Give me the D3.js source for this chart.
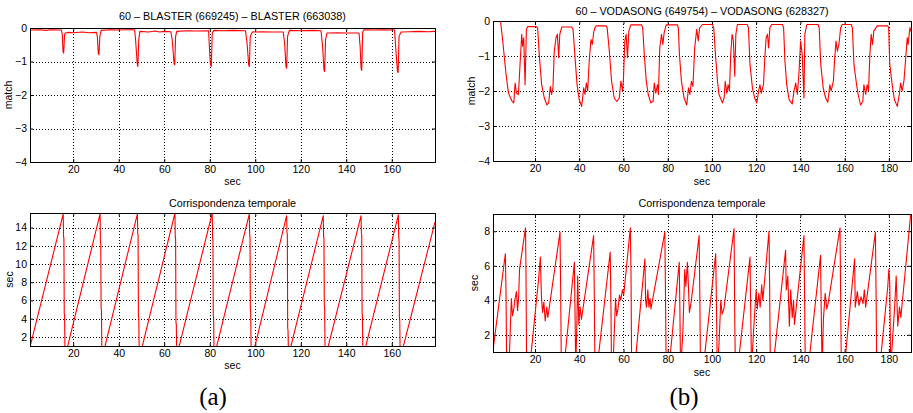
<!DOCTYPE html>
<html>
<head>
<meta charset="utf-8">
<script src="https://cdn.jsdelivr.net/npm/d3@7"></script>
<style>
  body { margin: 0; background: #fff; }
  svg text { font-family: "Liberation Sans", Arial, Helvetica, sans-serif; }
</style>
</head>
<body>
<div id="graf"></div>
<script>
// (a) match: [sec, value]
const blasterMatch = [
  [1,-0.06],[5,-0.05],[8,-0.07],[10,-0.05],[14.8,-0.06],[15.2,-0.2],[15.5,-0.7],[15.8,-0.75],[16.2,-0.2],[16.5,-0.15],
  [18,-0.13],[20,-0.14],[24,-0.12],[27,-0.14],[30.2,-0.13],[30.6,-0.25],[31.0,-0.75],[31.3,-0.8],[31.7,-0.25],[32.3,-0.07],
  [36,-0.05],[40,-0.06],[44,-0.05],[47,-0.05],[47.4,-0.35],[48.1,-1.05],[48.4,-1.15],[48.8,-0.35],[49.3,-0.1],
  [53,-0.12],[56,-0.09],[58,-0.12],[60,-0.1],[62.9,-0.11],[63.5,-0.35],[64.3,-1.05],[64.6,-1.1],[65.0,-0.25],[65.5,-0.1],
  [70,-0.08],[74,-0.09],[79.5,-0.08],[79.9,-0.65],[80.3,-1.1],[80.7,-1.15],[81.1,-0.15],[81.8,-0.07],
  [86,-0.08],[90,-0.07],[95.7,-0.08],[96.4,-0.45],[97.1,-1.1],[97.4,-1.15],[97.8,-0.25],[98.7,-0.12],
  [103,-0.11],[107,-0.12],[112.3,-0.12],[112.9,-0.45],[113.5,-1.15],[113.8,-1.2],[114.2,-0.25],[115,-0.07],
  [120,-0.08],[125,-0.07],[128.9,-0.08],[129.6,-0.55],[130.2,-1.25],[130.5,-1.3],[130.9,-0.35],[131.5,-0.15],
  [136,-0.14],[140,-0.15],[145.6,-0.15],[146.1,-0.55],[146.5,-1.2],[146.8,-1.27],[147.2,-0.12],[147.9,-0.05],
  [152,-0.06],[156,-0.05],[161.2,-0.06],[161.8,-0.65],[162.5,-1.3],[162.8,-1.33],[163.2,-0.25],[164.1,-0.12],
  [168,-0.11],[172,-0.1],[176,-0.11],[179,-0.1]
]

// (a) corrispondenza temporale
const blasterTime = [
  [1,0.9],[15.6,15.5],[15.75,13.0],[15.9,12.8],[16.05,4.6],[16.2,4.3],[16.4,0],
  [16.6,0],[31.8,15.5],[31.95,12.5],[32.1,12.2],[32.25,5.2],[32.4,4.9],[32.6,0],
  [33.0,0],[48.2,15.5],[48.35,13.4],[48.5,13.1],[48.65,4.4],[48.8,4.1],[49.0,0],
  [49.4,0],[64.7,15.6],[64.85,13.0],[65.0,12.7],[65.15,3.6],[65.3,3.4],[65.5,0],
  [65.6,0],[81.1,15.6],[81.25,12.9],[81.4,12.6],[81.55,4.4],[81.7,4.1],[81.9,0],
  [82.1,0],[97.4,15.5],[97.55,13.2],[97.7,12.9],[97.85,5.0],[98.0,4.7],[98.2,0],
  [98.9,0],[113.8,15.3],[113.95,13.5],[114.1,13.2],[114.25,3.0],[114.4,2.7],[114.6,0],
  [114.7,0],[129.9,15.3],[130.05,13.0],[130.2,12.7],[130.35,5.5],[130.5,5.2],[130.7,0],
  [131.1,0],[146.5,15.3],[146.65,13.4],[146.8,13.1],[146.95,4.6],[147.1,4.3],[147.3,0],
  [147.6,0],[162.9,15.4],[163.05,13.0],[163.2,12.7],[163.35,4.2],[163.5,3.9],[163.7,0],
  [164.1,0],[179,14.6]
]

// (b) match
const vodaMatch = [
  [1,0],[4.4,0],[5.4,-0.57],[6.9,-1.53],[8.0,-2.06],[9.5,-2.28],[10.4,-2.34],[11.0,-1.77],[11.6,-2.06],[12.5,-2.1],
  [13.3,-1.15],[14.0,-0.38],[14.4,-0.72],[14.9,-0.48],[15.5,-1.82],[16.1,-0.24],[16.7,-0.16],[20.5,-0.16],[21.2,-0.2],
  [21.9,-0.96],[23.0,-1.82],[24.2,-2.2],[25.4,-2.4],[26.2,-2.34],[26.9,-1.87],[27.5,-2.1],[28.1,-1.92],[28.7,-0.86],
  [29.5,-0.48],[30.1,-0.38],[30.7,-1.05],[31.2,-0.38],[32.1,-0.17],[36.6,-0.17],[37.2,-0.24],
  [38.1,-1.05],[39.0,-1.82],[40.0,-2.25],[41.1,-2.44],[42.0,-1.91],[42.6,-2.1],[43.2,-1.77],[43.8,-2.0],[44.5,-1.15],
  [45.3,-0.53],[45.9,-0.67],[46.5,-0.33],[47.1,-0.19],[47.7,-0.14],[52.1,-0.14],[52.6,-0.19],
  [53.6,-0.86],[54.6,-1.72],[55.8,-2.2],[57.0,-2.3],[58.1,-2.2],[58.8,-1.72],[59.6,-2.0],[60.0,-1.63],[60.6,-0.57],
  [61.2,-0.38],[61.8,-1.05],[62.4,-0.29],[63.3,-0.11],[68.2,-0.11],[68.7,-0.2],
  [69.4,-0.96],[70.3,-1.72],[71.2,-2.1],[72.4,-2.34],[73.4,-2.3],[73.9,-1.77],[74.6,-2.06],[75.4,-1.82],[75.8,-2.1],
  [76.4,-0.77],[77.2,-0.38],[77.8,-0.67],[78.4,-0.33],[79.3,-0.11],[84.4,-0.11],[84.8,-0.2],
  [85.3,-0.96],[86.2,-1.72],[87.4,-2.2],[88.6,-2.4],[89.4,-1.91],[90.0,-2.1],[90.7,-1.72],[91.4,-1.87],[92.2,-0.77],
  [93.1,-0.24],[93.8,-0.57],[94.4,-0.2],[95.7,-0.1],[100.2,-0.1],[100.8,-0.19],
  [101.7,-1.05],[102.5,-1.72],[103.2,-2.1],[104.7,-2.34],[105.5,-2.2],[106.0,-1.72],[106.7,-2.06],[107.3,-1.82],
  [107.9,-2.0],[108.5,-0.96],[109.1,-0.38],[109.7,-0.57],[110.3,-1.58],[110.8,-0.38],[111.5,-0.1],[116.0,-0.1],[116.5,-0.2],
  [117.2,-1.24],[118.3,-1.91],[119.3,-2.2],[120.3,-2.34],[121.1,-2.0],[121.7,-1.82],[122.3,-2.06],[123.3,-1.82],
  [123.9,-1.05],[124.5,-0.48],[125.1,-0.38],[125.6,-0.77],[126.2,-0.19],[127.0,-0.1],[131.9,-0.1],[132.4,-0.2],
  [133.0,-1.15],[133.8,-1.82],[134.9,-2.25],[136.3,-2.37],[137.1,-2.0],[137.9,-1.77],[138.6,-2.1],[139.3,-1.53],
  [140.1,-0.57],[140.8,-0.96],[141.6,-2.2],[142.0,-0.38],[142.9,-0.1],[148.0,-0.1],[148.5,-0.2],
  [149.2,-1.24],[150.3,-1.91],[151.4,-2.2],[152.4,-2.32],[153.3,-1.82],[153.9,-2.0],[154.9,-1.72],[155.5,-1.05],
  [156.1,-0.57],[156.7,-0.86],[157.4,-0.67],[158.2,-0.19],[158.9,-0.1],[163.0,-0.1],[163.5,-0.2],
  [164.2,-1.24],[165.4,-1.82],[166.1,-2.1],[167.2,-2.4],[168.2,-2.3],[168.7,-1.82],[169.5,-2.1],[170.2,-1.82],
  [170.8,-2.0],[171.4,-0.96],[172.0,-0.38],[172.6,-0.67],[173.2,-0.29],[174.7,-0.14],[179.5,-0.14],[179.9,-0.2],
  [180.4,-1.24],[181.5,-1.82],[182.5,-2.25],[183.8,-2.44],[184.7,-2.1],[185.3,-1.77],[186.0,-2.0],[186.8,-1.72],
  [187.5,-1.15],[188.3,-0.48],[188.7,-0.67],[189.5,-0.19],[190,-0.3]
]

// (b) corrispondenza temporale
const vodaTime = [
  [1,1.1],[6.6,6.7],[6.9,4.2],[7.2,0],
  [8.2,0],[9.3,4.1],[9.8,3.1],[10.4,3.5],[11.0,4.1],[11.6,4.5],[12.1,3.4],[12.6,4.2],[13.0,5.8],[15.7,8.2],[15.9,5.8],[16.2,0],
  [17.5,0],[21.6,5.2],[22.4,6.5],[22.9,4.2],[23.4,3.3],[24.0,3.9],[24.6,2.8],[25.3,3.6],[25.8,3.0],[31.3,7.95],[31.6,4.5],[31.9,0],
  [33.0,0],[37.8,6.2],[38.1,3.2],[38.4,0],[38.9,2.5],[39.3,5.4],[39.8,2.6],[40.4,3.6],[41.0,2.9],[46.5,7.75],[46.8,4.3],[47.1,0],
  [48.0,0],[54.0,6.8],[54.3,4.0],[54.6,0],[55.5,1.0],[56.4,4.1],[56.9,3.1],[57.5,3.5],[58.2,4.3],[58.8,4.0],[59.5,4.6],[60.1,4.3],
  [63.1,8.2],[63.4,5.5],[63.7,0],
  [65.0,0],[69.7,6.4],[70.0,4.0],[70.4,3.6],[71.0,4.6],[71.5,3.6],[72.0,4.1],[72.4,3.5],[78.7,7.95],[79.0,4.3],[79.3,0],
  [80.5,0],[85.2,6.2],[85.5,3.5],[85.8,0],[86.8,2.0],[87.7,5.8],[88.2,4.8],[88.9,6.2],[89.3,5.0],[89.8,3.3],[90.5,3.8],
  [94.2,7.75],[94.5,4.5],[94.8,0],
  [96.0,0],[101.7,6.7],[102.0,4.0],[102.4,0],[103.2,1.5],[104.0,4.0],[104.6,3.2],[105.4,3.5],[110.0,8.15],[110.3,3.0],[110.6,0],
  [111.6,0],[117.2,6.5],[117.5,3.6],[117.9,0],[118.8,2.2],[120.0,4.6],[120.5,3.5],[121.2,4.4],[121.8,3.6],[122.5,4.9],[123.0,4.0],
  [125.8,8.0],[126.1,4.5],[126.4,0],
  [127.5,0],[133.3,6.9],[133.6,4.6],[134.3,5.4],[135.0,2.5],[135.6,4.6],[136.3,3.0],[136.9,4.0],[137.3,2.6],[141.6,7.75],[141.9,4.0],[142.2,0],
  [143.5,0],[149.1,6.6],[149.4,3.5],[149.8,0],[150.4,2.9],[151.2,4.4],[151.9,3.5],[152.5,3.8],[157.9,8.2],[158.2,4.0],[158.5,0],
  [159.8,0],[164.5,6.4],[164.8,3.6],[165.7,4.5],[166.5,3.7],[167.4,4.2],[168.3,3.8],[168.9,4.6],[169.5,3.6],[173.9,7.95],[174.2,4.5],[174.5,0],
  [175.8,0],[179.5,4.8],[180.0,5.8],[180.4,5.0],[180.8,0],[181.8,2.0],[182.6,3.6],[183.3,5.4],[184.0,2.5],[184.8,3.6],[185.4,3.0],
  [189.8,8.9],[190,9]
]

// tick values
const ticksXa = [20, 40, 60, 80, 100, 120, 140, 160]
const ticksXb = [20, 40, 60, 80, 100, 120, 140, 160, 180]
const ticksMatch = [0, -1, -2, -3, -4]
const ticksTimeA = [2, 4, 6, 8, 10, 12, 14]
const ticksTimeB = [2, 4, 6, 8]

const titles = [
  "60 \u2013 BLASTER (669245) \u2013 BLASTER (663038)",
  "60 \u2013 VODASONG (649754) \u2013 VODASONG (628327)",
  "Corrispondenza temporale"
]

const svg = d3.select("#graf")
  .append("svg")
  .attr("width", 913)
  .attr("height", 413)

const fontSize = 10.5

const drawPanel = (p) => {
  const x = d3.scaleLinear().domain(p.xDomain).range([p.left, p.right])
  const y = d3.scaleLinear().domain(p.yDomain).range([p.bottom, p.top])
  const g = svg.append("g")

  g.append("clipPath")
    .attr("id", p.id)
    .append("rect")
    .attr("x", p.left)
    .attr("y", p.top)
    .attr("width", p.right - p.left)
    .attr("height", p.bottom - p.top)

  // griglia
  g.append("g")
    .selectAll("line")
    .data(p.xTicks)
    .join("line")
    .attr("x1", (d) => Math.round(x(d)) + 0.5)
    .attr("x2", (d) => Math.round(x(d)) + 0.5)
    .attr("y1", p.top)
    .attr("y2", p.bottom)
    .attr("stroke", "#000")
    .attr("stroke-dasharray", "1,2")
  g.append("g")
    .selectAll("line")
    .data(p.yTicks)
    .join("line")
    .attr("y1", (d) => Math.round(y(d)) + 0.5)
    .attr("y2", (d) => Math.round(y(d)) + 0.5)
    .attr("x1", p.left)
    .attr("x2", p.right)
    .attr("stroke", "#000")
    .attr("stroke-dasharray", "1,2")

  // assi
  const fmt = d3.format("d")
  const axes = [
    [d3.axisBottom(x).tickValues(p.xTicks).tickFormat(fmt).tickPadding(4), `translate(0,${p.bottom})`],
    [d3.axisTop(x).tickValues(p.xTicks).tickFormat(""), `translate(0,${p.top})`],
    [d3.axisLeft(y).tickValues(p.yTicks).tickFormat(fmt).tickPadding(3), `translate(${p.left},0)`],
    [d3.axisRight(y).tickValues(p.yTicks).tickFormat(""), `translate(${p.right},0)`]
  ]
  axes.forEach(([ax, tr]) => {
    const a = g.append("g")
      .attr("transform", tr)
      .call(ax.tickSize(-3).tickSizeOuter(0))
    a.select(".domain").remove()
    a.selectAll("text")
      .attr("font-size", fontSize)
      .attr("font-family", '"Liberation Sans", Arial, sans-serif')
      .attr("fill", "#000")
  })

  // linea
  const line = d3.line()
    .x((d) => x(d[0]))
    .y((d) => y(d[1]))

  g.append("path")
    .datum(p.data)
    .attr("d", line)
    .attr("fill", "none")
    .attr("stroke", "#ff0000")
    .attr("stroke-width", 1.1)
    .attr("stroke-linejoin", "round")
    .attr("clip-path", `url(#${p.id})`)

  g.append("rect")
    .attr("x", p.left + 0.5)
    .attr("y", p.top + 0.5)
    .attr("width", p.right - p.left)
    .attr("height", p.bottom - p.top)
    .attr("fill", "none")
    .attr("stroke", "#000")

  // testi
  g.append("text")
    .attr("x", (p.left + p.right) / 2)
    .attr("y", p.titleY)
    .attr("text-anchor", "middle")
    .attr("font-size", fontSize + 0.3)
    .text(p.title)

  g.append("text")
    .attr("x", (p.left + p.right) / 2)
    .attr("y", p.xLabelY)
    .attr("text-anchor", "middle")
    .attr("font-size", fontSize)
    .text("sec")

  g.append("text")
    .attr("transform", `translate(${p.yLabelX},${(p.top + p.bottom) / 2}) rotate(-90)`)
    .attr("text-anchor", "middle")
    .attr("font-size", fontSize)
    .text(p.yLabel)
}

drawPanel({
  id: "c1", data: blasterMatch, xDomain: [1, 179], yDomain: [-4, 0],
  xTicks: ticksXa, yTicks: ticksMatch,
  left: 30, right: 435, top: 28, bottom: 162,
  title: titles[0], titleY: 20, xLabelY: 185, yLabel: "match", yLabelX: 12
})
drawPanel({
  id: "c2", data: blasterTime, xDomain: [1, 179], yDomain: [1, 15.6],
  xTicks: ticksXa, yTicks: ticksTimeA,
  left: 30, right: 435, top: 213, bottom: 346,
  title: titles[2], titleY: 207, xLabelY: 369, yLabel: "sec", yLabelX: 12.5
})
drawPanel({
  id: "c3", data: vodaMatch, xDomain: [1, 190], yDomain: [-4, 0],
  xTicks: ticksXb, yTicks: ticksMatch,
  left: 493, right: 911, top: 21, bottom: 161,
  title: titles[1], titleY: 14.5, xLabelY: 185, yLabel: "match", yLabelX: 474.5
})
drawPanel({
  id: "c4", data: vodaTime, xDomain: [1, 190], yDomain: [1, 9],
  xTicks: ticksXb, yTicks: ticksTimeB,
  left: 493, right: 911, top: 214, bottom: 352,
  title: titles[2], titleY: 207, xLabelY: 376, yLabel: "sec", yLabelX: 478
})

// etichette (a) (b)
svg.selectAll(".sub")
  .data([["(a)", 213], ["(b)", 684]])
  .join("text")
  .attr("x", (d) => d[1])
  .attr("y", 405)
  .attr("text-anchor", "middle")
  .attr("font-size", 25)
  .style("font-family", '"Liberation Serif", "Times New Roman", serif')
  .text((d) => d[0])
</script>
</body>
</html>
